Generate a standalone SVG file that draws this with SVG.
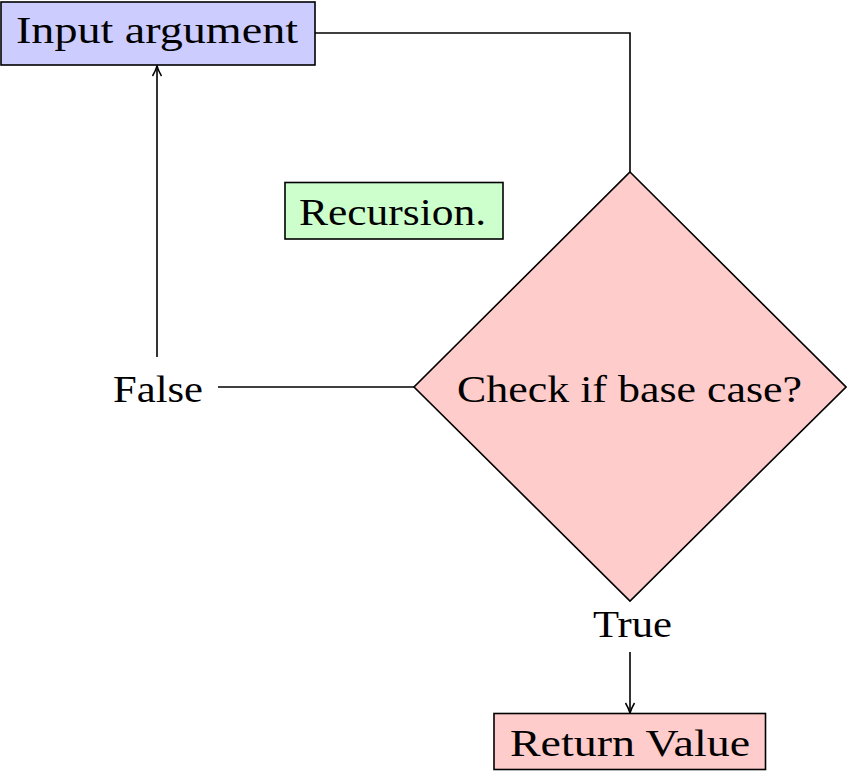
<svg xmlns="http://www.w3.org/2000/svg" width="847" height="771" viewBox="0 0 847 771">
<style>
.n{stroke:#000;stroke-width:1.6}
.t{font-family:"Liberation Serif","DejaVu Serif",serif;font-size:38px;fill:#000}
.c{fill:none;stroke:#000;stroke-width:1.6}
</style>
<defs>
<marker id="a" viewBox="0 0 12 12" refX="11" refY="6" markerWidth="12" markerHeight="12" markerUnits="userSpaceOnUse" orient="auto">
<path d="M1,1.5 Q6,4.5 11,6 Q6,7.5 1,10.5" fill="none" stroke="#000" stroke-width="1.5"/>
</marker>
</defs>
<rect width="847" height="771" fill="#fff"/>
<g id="connectors">
<path class="c" d="M315,33 H630 V172"/>
<path class="c" d="M157,357 V66" marker-end="url(#a)"/>
<path class="c" d="M414,387 H218"/>
<path class="c" d="M630,652 V713" marker-end="url(#a)"/>
</g>
<g id="input">
<rect class="n" x="1" y="2" width="314" height="63" fill="#ccccff"/>
<text class="t" x="16" y="43" textLength="282" lengthAdjust="spacingAndGlyphs">Input argument</text>
</g>
<g id="recursion">
<rect class="n" x="285" y="182.5" width="218" height="56.5" fill="#ccffcc"/>
<text class="t" x="299" y="225" textLength="187" lengthAdjust="spacingAndGlyphs">Recursion.</text>
</g>
<g id="check">
<polygon class="n" points="630,172 846,387 630,601 414,387" fill="#ffcccc"/>
<text class="t" x="457" y="401.5" textLength="345" lengthAdjust="spacingAndGlyphs">Check if base case?</text>
</g>
<g id="false">
<text class="t" x="113" y="401.5" textLength="90" lengthAdjust="spacingAndGlyphs">False</text>
</g>
<g id="true">
<text class="t" x="593" y="637" textLength="79" lengthAdjust="spacingAndGlyphs">True</text>
</g>
<g id="return">
<rect class="n" x="494" y="713.5" width="271.5" height="56" fill="#ffcccc"/>
<text class="t" x="510" y="756" textLength="240" lengthAdjust="spacingAndGlyphs">Return Value</text>
</g>
</svg>
